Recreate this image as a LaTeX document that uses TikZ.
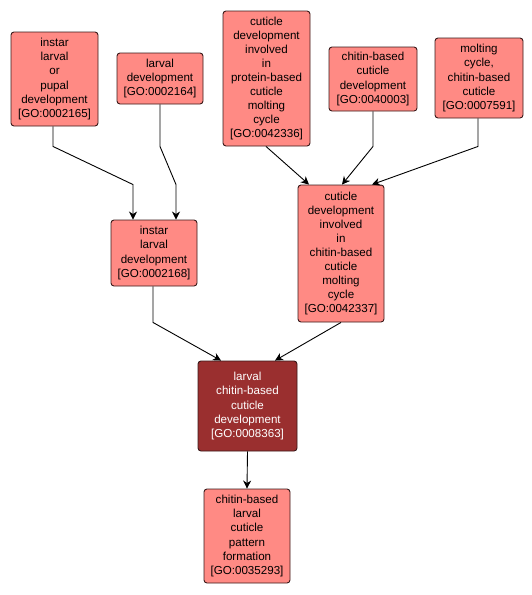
\documentclass[tikz,border=0pt]{standalone}
\usepackage{fontspec}
\setmainfont{Liberation Sans}
\usetikzlibrary{arrows.meta,calc}
\definecolor{gofill}{HTML}{FF8A84}
\definecolor{godark}{HTML}{9A2F2F}
\definecolor{goline}{HTML}{3A1A1A}
\begin{document}
\begin{tikzpicture}[x=1pt,y=-1pt,
  term/.style={draw=goline,line width=0.9pt,fill=gofill,rounded corners=3pt,align=center,
    inner sep=0pt,font=\fontsize{11.6}{14.1}\selectfont,text=black},
  focus/.style={term,fill=godark,text=white},
  arr/.style={draw=black,line width=0.9pt,-{Stealth[length=8pt,width=8pt,inset=2.5pt]}}]
\useasboundingbox[fill=white] (0,0) rectangle (532,595);
\node[term,minimum width=87pt,minimum height=94pt] (n1) at (54.5,79) {instar\\larval\\or\\pupal\\development\\{[GO:0002165]}};
\node[term,minimum width=86pt,minimum height=51pt] (n2) at (160,78.5) {larval\\development\\{[GO:0002164]}};
\node[term,minimum width=87pt,minimum height=135pt] (n3) at (266.5,78.5) {cuticle\\development\\involved\\in\\protein-based\\cuticle\\molting\\cycle\\{[GO:0042336]}};
\node[term,minimum width=88pt,minimum height=64pt] (n4) at (373,79) {chitin-based\\cuticle\\development\\{[GO:0040003]}};
\node[term,minimum width=88pt,minimum height=80pt] (n5) at (479,78) {molting\\cycle,\\chitin-based\\cuticle\\{[GO:0007591]}};
\node[term,minimum width=86pt,minimum height=66pt] (n6) at (154,253) {instar\\larval\\development\\{[GO:0002168]}};
\node[term,minimum width=86pt,minimum height=137pt] (n7) at (341,253.5) {cuticle\\development\\involved\\in\\chitin-based\\cuticle\\molting\\cycle\\{[GO:0042337]}};
\node[focus,minimum width=99pt,minimum height=90pt] (n8) at (247.5,406) {larval\\chitin-based\\cuticle\\development\\{[GO:0008363]}};
\node[term,minimum width=86pt,minimum height=94pt] (n9) at (247,536) {chitin-based\\larval\\cuticle\\pattern\\formation\\{[GO:0035293]}};
\draw[arr] ($(n1.south)+(-1.5,0)$) -- ++(0,20) -- ($(n6.north)+(-21,-35)$) -- ($(n6.north)+(-21,0)$);
\draw[arr] (n2.south) -- ++(0,42) -- ($(n6.north)+(22,-35)$) -- ($(n6.north)+(22,0)$);
\draw[arr] ($(n3.south)+(-0.5,0)$) -- ($(n7.north)+(-32,0)$);
\draw[arr] (n4.south) -- ++(0,35) -- ($(n7.north)+(1,0)$);
\draw[arr] ($(n5.south)+(-1,0)$) -- ++(0,28) -- ($(n7.north)+(31,0)$);
\draw[arr] ($(n6.south)+(-1,0)$) -- ++(0,36) -- ($(n8.north)+(-26.5,0)$);
\draw[arr] (n7.south) -- ($(n8.north)+(27.5,0)$);
\draw[arr] (n8.south) -- (n9.north);
\end{tikzpicture}
\end{document}
